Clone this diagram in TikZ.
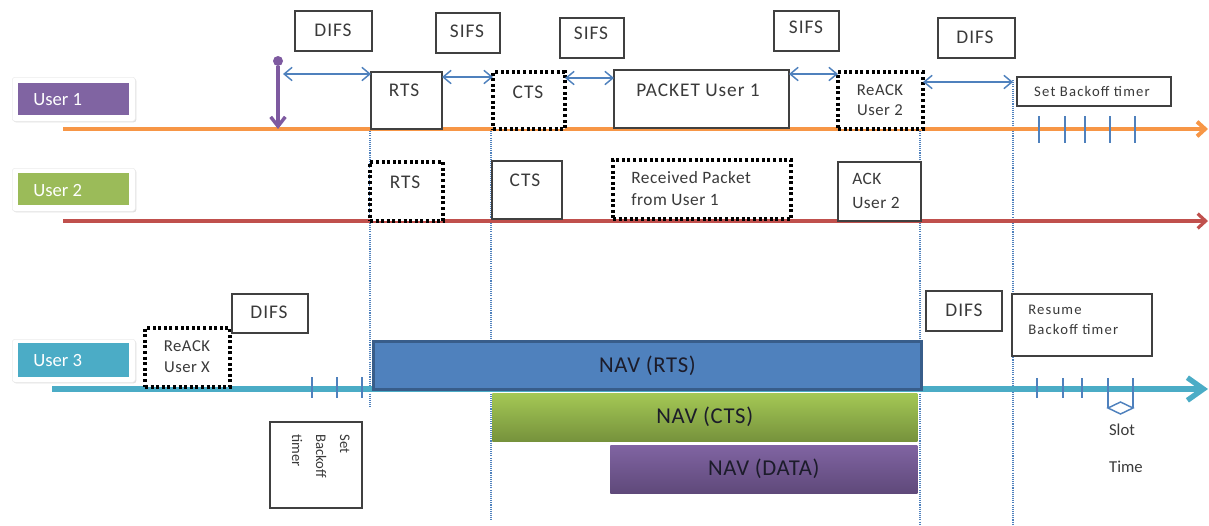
\documentclass[tikz,border=0pt]{standalone}
\usepackage{fontspec}
\setmainfont{Carlito}
\usetikzlibrary{arrows.meta,shadows}
\definecolor{cBlue}{HTML}{4F81BD}
\definecolor{navBorder}{HTML}{385D8A}
\definecolor{cPurple}{HTML}{8064A2}
\definecolor{cPurpleD}{HTML}{5F497A}
\definecolor{cGreen}{HTML}{9BBB59}
\definecolor{cGreenL}{HTML}{A4C855}
\definecolor{cGreenD}{HTML}{76923C}
\definecolor{cTeal}{HTML}{4BACC6}
\definecolor{cOrange}{HTML}{F79646}
\definecolor{cRed}{HTML}{C0504D}
\definecolor{boxgray}{HTML}{404040}
\definecolor{txtgray}{HTML}{3A3A3A}
\definecolor{navtxt}{HTML}{1C1C2A}
\definecolor{pinc}{HTML}{7E5AA0}
\newcommand\mybox[6]{\node[#1, anchor=north west, minimum width={(#5-#3)*0.75pt}, minimum height={(#6-#4)*0.75pt}] (#2) at (#3,#4) {};}
\tikzset{
  wbox/.style={draw=boxgray, line width=1.1pt, fill=white, inner sep=0pt, outer sep=0pt},
  dbox/.style={draw=black, line width=2.4pt, dash pattern=on 2.2pt off 2pt, fill=white, inner sep=0pt, outer sep=0pt},
  ubox/.style={draw=black!8, fill=white, rounded corners=2pt, inner sep=0pt, drop shadow={opacity=0.25, shadow xshift=0.8pt, shadow yshift=-0.8pt}},
  ulab/.style={inner sep=0pt, outer sep=0pt},
  utxt/.style={text=white, font=\fontsize{14}{16}\selectfont, inner sep=0pt},
  btxt/.style={text=txtgray, font=\fontsize{14.5}{16}\selectfont\addfontfeature{LetterSpace=5}, inner sep=0pt},
  stxt/.style={text=txtgray, font=\fontsize{12.5}{15}\selectfont\addfontfeature{LetterSpace=3}, inner sep=0pt},
  navtext/.style={text=navtxt, font=\fontsize{17}{19}\selectfont\addfontfeature{LetterSpace=3}},
  vdot/.style={draw=cBlue, line width=0.9pt, dash pattern=on 0.8pt off 0.8pt},
  span/.style={draw=cBlue, line width=1.1pt, {Straight Barb[length=6pt,width=10pt]}-{Straight Barb[length=6pt,width=10pt]}},
  tickmark/.style={draw=cBlue, line width=1.1pt},
  tline/.style={line width=3pt, -{Straight Barb[length=6pt,width=11pt]}},
}
\begin{document}
\begin{tikzpicture}[x=0.75pt,y=-0.75pt]
\useasboundingbox (0,0) rectangle (1209,525);

% vertical dotted guide lines
\coordinate (v1a) at (370,129); \coordinate (v1b) at (370,407);
\coordinate (v2a) at (491,129); \coordinate (v2b) at (491,520);
\coordinate (v3a) at (920,129); \coordinate (v3b) at (920,525);
\coordinate (v4a) at (1013,80); \coordinate (v4b) at (1013,525);
\draw[vdot] (v1a) -- (v1b);
\draw[vdot] (v2a) -- (v2b);
\draw[vdot] (v3a) -- (v3b);
\draw[vdot] (v4a) -- (v4b);

% user labels
\mybox{ubox}{u1out}{12}{77}{135}{121}
\mybox{ulab, fill=cPurple}{u1box}{18}{83}{129}{115}
\node[utxt, anchor=west] (u1t) at (33,100) {User 1};
\mybox{ubox}{u2out}{12}{168}{135}{211}
\mybox{ulab, fill=cGreen}{u2box}{18}{173}{129}{205}
\node[utxt, anchor=west] (u2t) at (33,191) {User 2};
\mybox{ubox}{u3out}{12}{339}{135}{382}
\mybox{ulab, fill=cTeal}{u3box}{18}{343}{129}{377}
\node[utxt, anchor=west] (u3t) at (33,361) {User 3};

% timelines
\coordinate (l1s) at (63,129); \coordinate (l1e) at (1208,129);
\coordinate (l2s) at (63,221); \coordinate (l2e) at (1208,221);
\coordinate (l3s) at (52,389); \coordinate (l3e) at (1208,389);
\draw[tline, draw=cOrange] (l1s) -- (l1e);
\draw[tline, draw=cRed, line width=2.4pt] (l2s) -- (l2e);
\draw[draw=cTeal, line width=4pt, -{Straight Barb[length=12pt,width=17pt]}] (l3s) -- (l3e);

% ---------- User 1 row ----------
\mybox{wbox}{difs1}{295}{11}{372}{51}
\node[btxt] (difs1t) at (333,30) {DIFS};
\node[circle, fill=pinc, inner sep=0pt, minimum size=7.5pt] (pin) at (278,61) {};
\draw[draw=pinc, line width=2.6pt, -{Straight Barb[length=7pt,width=11pt]}] (pin) -- (pin |- l1s);

\mybox{wbox}{rts1}{371}{72}{442}{129}
\node[btxt] (rts1t) at (404,90) {RTS};
\mybox{wbox}{sifs1}{436}{13}{500}{53}
\node[btxt] (sifs1t) at (467,31) {SIFS};
\mybox{dbox}{cts1}{493}{72}{565}{129}
\node[btxt] (cts1t) at (528,92) {CTS};
\mybox{wbox}{sifs2}{560}{18}{624}{58}
\node[btxt] (sifs2t) at (591,33) {SIFS};
\mybox{wbox}{pkt}{614}{70}{789}{128}
\node[btxt] (pktt) at (698,90) {PACKET User 1};
\mybox{wbox}{sifs3}{774}{11}{839}{51}
\node[btxt] (sifs3t) at (806,27) {SIFS};
\mybox{dbox}{rack2}{838}{72}{923}{129}
\node[stxt, align=center] (rack2t) at (880,100) {ReACK\\User 2};
\mybox{wbox}{difs2}{938}{18}{1015}{58}
\node[btxt] (difs2t) at (975,37) {DIFS};
\mybox{wbox}{sbt1}{1017}{77}{1171}{106}
\node[stxt, font=\fontsize{11}{13}\selectfont\addfontfeature{LetterSpace=8}] (sbt1t) at (1092,91) {Set Backoff timer};

% spans in row 1
\coordinate (a1) at (283,74);
\draw[span] (a1) -- (a1 -| rts1.west);
\coordinate (a2) at ([yshift=-3.75pt]rts1.north east);
\draw[span] (a2) -- (a2 -| cts1.west);
\coordinate (a3) at ([yshift=-4.5pt]cts1.north east);
\draw[span] (a3) -- (a3 -| pkt.west);
\coordinate (a4) at ([yshift=-3pt]pkt.north east);
\draw[span] (a4) -- (a4 -| rack2.west);
\coordinate (a5) at ([yshift=-7.5pt]rack2.north east);
\draw[span] (a5) -- (a5 -| v4a);

% ticks row 1
\foreach \x [count=\i] in {1039,1065,1085,1110,1135}{
  \coordinate (t1a\i) at (\x,116); \coordinate (t1b\i) at (\x,143);
  \draw[tickmark] (t1a\i) -- (t1b\i);
}

% ---------- User 2 row ----------
\mybox{dbox}{rts2}{370}{162}{443}{221}
\node[btxt] (rts2t) at (405,182) {RTS};
\mybox{wbox}{cts2}{492}{161}{562}{219}
\node[btxt] (cts2t) at (525,180) {CTS};
\mybox{dbox}{rcv}{613}{160}{791}{219}
\node[stxt, font=\fontsize{13}{16.5}\selectfont\addfontfeature{LetterSpace=3}, align=left, anchor=west] (rcvt) at (631,189) {Received Packet\\from User 1};
\mybox{wbox}{ack2}{838}{162}{921}{221}
\node[stxt, font=\fontsize{13}{18}\selectfont\addfontfeature{LetterSpace=3}, align=left, anchor=west] (ack2t) at (852,191) {ACK\\User 2};

% ---------- User 3 row ----------
\mybox{dbox}{rackx}{145}{328}{230}{387}
\node[stxt, font=\fontsize{12.5}{15.75}\selectfont\addfontfeature{LetterSpace=3}, align=center] (rackxt) at (187,357) {ReACK\\User X};
\mybox{wbox}{difs3}{232}{294}{308}{333}
\node[btxt] (difs3t) at (269,312) {DIFS};
\foreach \x [count=\i] in {312,337,362}{
  \coordinate (t3a\i) at (\x,377); \coordinate (t3b\i) at (\x,398);
  \draw[tickmark] (t3a\i) -- (t3b\i);
}
\mybox{wbox}{sbt3}{270}{422}{362}{508}
\node[stxt, font=\fontsize{11}{18}\selectfont, rotate=-90, anchor=north west, align=left] (sbt3t) at (350,434) {Set\\Backoff\\timer};

% NAV bars
\node[anchor=north west, minimum width={(920-372)*0.75pt}, minimum height={(388-340)*0.75pt}, fill=cBlue, draw=navBorder, line width=2.2pt, inner sep=0pt, navtext] (navrts) at (372,340) {NAV (RTS)};
\node[anchor=north west, minimum width={(917-492)*0.75pt}, minimum height={(441-393)*0.75pt}, top color=cGreenL, bottom color=cGreenD, inner sep=0pt, navtext, drop shadow={opacity=0.2, shadow xshift=0.6pt, shadow yshift=-0.8pt}] (navcts) at (492,393) {NAV (CTS)};
\node[anchor=north west, minimum width={(917-610)*0.75pt}, minimum height={(493-445)*0.75pt}, top color=cPurple, bottom color=cPurpleD, inner sep=0pt, navtext, drop shadow={opacity=0.2, shadow xshift=0.6pt, shadow yshift=-0.8pt}] (navdata) at (610,445) {NAV (DATA)};

\mybox{wbox}{difs4}{926}{291}{1002}{331}
\node[btxt] (difs4t) at (964,310) {DIFS};
\mybox{wbox}{resume}{1012}{294}{1152}{356}
\node[stxt, font=\fontsize{11}{15}\selectfont\addfontfeature{LetterSpace=8}, align=left, anchor=west] (resumet) at (1028,320) {Resume\\Backoff timer};

\foreach \x [count=\i] in {1037,1063,1082,1108,1133}{
  \coordinate (t4a\i) at (\x,378); \coordinate (t4b\i) at (\x,398);
  \draw[tickmark] (t4a\i) -- (t4b\i);
}
\coordinate (s1b) at (1108,408);
\coordinate (s2b) at (1133,408);
\coordinate (dtop) at (1120.5,402); \coordinate (dbot) at (1120.5,414);
\draw[tickmark] (t4b4) -- (s1b);
\draw[tickmark] (t4b5) -- (s2b);
\draw[tickmark] (s1b) -- (dtop) -- (s2b) -- (dbot) -- cycle;
\node[stxt, font=\fontsize{12.5}{15}\selectfont] (slot) at (1122,430) {Slot};
\node[stxt, font=\fontsize{12.5}{15}\selectfont] (time) at (1126,467) {Time};
\end{tikzpicture}
\end{document}
